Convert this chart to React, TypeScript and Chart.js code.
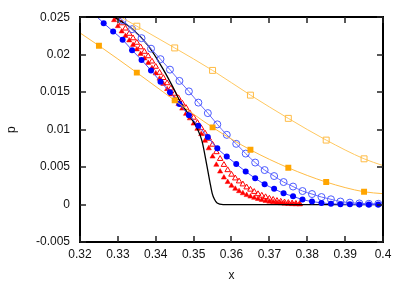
import React, { useEffect, useRef } from "react";
import { Chart, registerables } from "chart.js";

Chart.register(...registerables);

// ---- data ----
const xTickLabels = ["0.32", "0.33", "0.34", "0.35", "0.36", "0.37", "0.38", "0.39", "0.4"];
const yTickLabels = ["-0.005", "0", "0.005", "0.01", "0.015", "0.02", "0.025"];

const blackX = [0.3285, 0.3292, 0.3332, 0.338, 0.3419, 0.3445, 0.3464, 0.349, 0.3509, 0.3522, 0.3535, 0.3543, 0.3549, 0.3555, 0.3562, 0.3578, 0.4];
const blackY = [0.0254, 0.025, 0.0237, 0.0212, 0.0181, 0.0157, 0.0138, 0.0118, 0.0102, 0.0085, 0.0052, 0.003, 0.0015, 0.0007, 0.0002, 0.0, 0.0];

const redX = [
  0.328, 0.329, 0.33, 0.331, 0.332, 0.333, 0.334, 0.335, 0.336, 0.337,
  0.338, 0.339, 0.34, 0.341, 0.342, 0.343, 0.344, 0.345, 0.346, 0.347,
  0.348, 0.349, 0.35, 0.351, 0.352, 0.353, 0.354, 0.355, 0.356, 0.357,
  0.358, 0.359, 0.36, 0.361, 0.362, 0.363, 0.364, 0.365, 0.366, 0.367,
  0.368, 0.369, 0.37, 0.371, 0.372, 0.373, 0.374, 0.375, 0.376, 0.377, 0.378,
];
const redFilledY = [
  0.0253, 0.0246, 0.0238, 0.0231, 0.0225, 0.0219, 0.0213, 0.0207, 0.0201, 0.0195,
  0.0189, 0.0182, 0.0175, 0.0168, 0.0161, 0.0154, 0.0147, 0.0141, 0.0134, 0.0128,
  0.0121, 0.0115, 0.0108, 0.0101, 0.0094, 0.0085, 0.0075, 0.0064, 0.0053, 0.0044,
  0.0036, 0.003, 0.0025, 0.0021, 0.00178, 0.0015, 0.00126, 0.00106, 0.00089, 0.00074,
  0.0006, 0.00048, 0.00038, 0.0003, 0.00023, 0.00017, 0.00012, 0.00008, 0.00005, 0.00003, 0.00002,
];
const redOpenY = [
  0.0264, 0.0257, 0.025, 0.0242, 0.0235, 0.0228, 0.0222, 0.0216, 0.021, 0.0204,
  0.0198, 0.0191, 0.0184, 0.0176, 0.0169, 0.0162, 0.0155, 0.0148, 0.0142, 0.0135,
  0.0129, 0.0122, 0.0116, 0.0109, 0.0102, 0.0095, 0.0088, 0.008, 0.007, 0.0061,
  0.0053, 0.0046, 0.004, 0.0035, 0.0031, 0.0027, 0.0023, 0.002, 0.0017, 0.0014,
  0.0012, 0.001, 0.0008, 0.00065, 0.0005, 0.0004, 0.0003, 0.00023, 0.00017, 0.00012, 0.00008,
];

const blueX = [
  0.32375, 0.32625, 0.32875, 0.33125, 0.33375, 0.33625, 0.33875, 0.34125, 0.34375, 0.34625,
  0.34875, 0.35125, 0.35375, 0.35625, 0.35875, 0.36125, 0.36375, 0.36625, 0.36875, 0.37125,
  0.37375, 0.37625, 0.37875, 0.38125, 0.38375, 0.38625, 0.38875, 0.39125, 0.39375, 0.39625, 0.39875,
];
const blueFilledY = [
  0.0254, 0.0242, 0.0231, 0.022, 0.0206, 0.0193, 0.0179, 0.0164, 0.015, 0.0134,
  0.0119, 0.0105, 0.009, 0.0075, 0.0064, 0.0054, 0.0044, 0.0035, 0.0027, 0.0021,
  0.0015, 0.0011, 0.00066, 0.0004, 0.00022, 0.0001, 0.00005, 0.00003, 0.00002, 0.00001, 0.00001,
];
const blueOpenY = [
  null, null, 0.0258, 0.0246, 0.0234, 0.0222, 0.0208, 0.0194, 0.018, 0.0165,
  0.0151, 0.0136, 0.0122, 0.0107, 0.0093, 0.0081, 0.0068, 0.0056, 0.0046, 0.0038,
  0.003, 0.0024, 0.0018, 0.0014, 0.001, 0.0007, 0.0004, 0.00025, 0.00015, 0.0001, 0.0001,
];

const orangeFilledX = [0.32, 0.325, 0.335, 0.345, 0.355, 0.365, 0.375, 0.385, 0.395, 0.4];
const orangeFilledY = [0.0229, 0.0212, 0.0176, 0.0139, 0.0103, 0.0073, 0.0049, 0.003, 0.0017, 0.00145];

const orangeOpenX = [0.325, 0.335, 0.345, 0.355, 0.365, 0.375, 0.385, 0.395, 0.4];
const orangeOpenY = [0.0267, 0.0238, 0.0209, 0.0179, 0.0146, 0.0115, 0.0086, 0.0061, 0.0052];

// ---- helpers ----
const zip = (xs: number[], ys: (number | null)[]) =>
  xs.map((x, i) => ({ x, y: ys[i] })).filter((p) => p.y !== null && p.y !== undefined);

const FONT = "'Liberation Sans', Arial, Helvetica, sans-serif";
const fmt = (v: any) => String(parseFloat(Number(v).toFixed(4)));

// gnuplot-like frame (2px) with inward ticks on all four sides
const framePlugin = {
  id: "gnuFrame",
  afterDraw(chart: any) {
    const ctx = chart.ctx;
    const a = chart.chartArea;
    const xs = chart.scales.x;
    const ys = chart.scales.y;
    const L = Math.round(a.left);
    const R = Math.round(a.right);
    const T = Math.round(a.top);
    const B = Math.round(a.bottom);
    const len = 6;
    ctx.save();
    ctx.fillStyle = "#000";
    ctx.fillRect(L - 1, T - 1, R - L + 2, 2);
    ctx.fillRect(L - 1, B - 1, R - L + 2, 2);
    ctx.fillRect(L - 1, T - 1, 2, B - T + 2);
    ctx.fillRect(R - 1, T - 1, 2, B - T + 2);
    ctx.fillStyle = "#222";
    xs.ticks.forEach((t: any) => {
      const px = Math.round(xs.getPixelForValue(t.value));
      ctx.fillRect(px - 0.75, B - len, 1.5, len);
      ctx.fillRect(px - 0.75, T, 1.5, len);
    });
    ys.ticks.forEach((t: any) => {
      const py = Math.round(ys.getPixelForValue(t.value));
      ctx.fillRect(L, py - 0.75, len, 1.5);
      ctx.fillRect(R - len, py - 0.75, len, 1.5);
    });
    ctx.restore();
  },
};

export default function App() {
  const ref = useRef<HTMLCanvasElement | null>(null);

  useEffect(() => {
    document.body.style.margin = "0";
    if (!ref.current) return;
    const lastIdx = (ctx: any) => ctx.dataset.data.length - 1;
    const chart = new Chart(ref.current, {
      type: "line",
      data: {
        datasets: [
          {
            label: "orange filled",
            data: zip(orangeFilledX, orangeFilledY),
            borderColor: "#ffbb44",
            borderWidth: 1,
            backgroundColor: "#ffa500",
            pointBackgroundColor: "#ffa500",
            pointBorderColor: "#ffa500",
            pointBorderWidth: 0,
            pointStyle: "rect",
            pointRadius: (c: any) => (c.dataIndex === 0 || c.dataIndex === lastIdx(c) ? 0 : 4.2),
            cubicInterpolationMode: "monotone",
          },
          {
            label: "orange open",
            data: zip(orangeOpenX, orangeOpenY),
            borderColor: "#ffc860",
            borderWidth: 1,
            pointBackgroundColor: "rgba(0,0,0,0)",
            pointBorderColor: "#ffbb44",
            pointBorderWidth: 1,
            pointStyle: "rect",
            pointRadius: (c: any) => (c.dataIndex === lastIdx(c) ? 0 : 4.2),
            cubicInterpolationMode: "monotone",
          },
          {
            label: "blue filled",
            data: zip(blueX, blueFilledY),
            borderColor: "#4a4aff",
            borderWidth: 1,
            pointBackgroundColor: "#0000ff",
            pointBorderColor: "#0000ff",
            pointBorderWidth: 0,
            pointStyle: "circle",
            pointRadius: 3,
            cubicInterpolationMode: "monotone",
          },
          {
            label: "blue open",
            data: zip(blueX, blueOpenY),
            borderColor: "#6a6aff",
            borderWidth: 1,
            pointBackgroundColor: "rgba(0,0,0,0)",
            pointBorderColor: "#4b5bff",
            pointBorderWidth: 1,
            pointStyle: "circle",
            pointRadius: 3.5,
            cubicInterpolationMode: "monotone",
          },
          {
            label: "black",
            data: zip(blackX, blackY),
            borderColor: "#000",
            borderWidth: 1.3,
            pointRadius: 0,
            cubicInterpolationMode: "monotone",
          },
          {
            label: "red open",
            data: zip(redX, redOpenY),
            showLine: false,
            pointBackgroundColor: "rgba(0,0,0,0)",
            pointBorderColor: "#ff0000",
            pointBorderWidth: 1,
            pointStyle: "triangle",
            pointRadius: 3.2,
          },
          {
            label: "red filled",
            data: zip(redX, redFilledY),
            showLine: false,
            pointBackgroundColor: "#ff0000",
            pointBorderColor: "#ff0000",
            pointBorderWidth: 0.5,
            pointStyle: "triangle",
            pointRadius: 3,
          },
        ],
      },
      options: {
        animation: false,
        responsive: false,
        events: [],
        layout: { padding: { left: 0, right: 24, top: 14, bottom: 0 } },
        plugins: { legend: { display: false }, tooltip: { enabled: false } },
        scales: {
          x: {
            type: "linear",
            min: 0.32,
            max: 0.4,
            afterFit: (s: any) => {
              s.height = 43;
            },
            ticks: {
              stepSize: 0.01,
              autoSkip: false,
              maxRotation: 0,
              padding: 5,
              color: "#111",
              font: { family: FONT, size: 12 },
              callback: fmt,
            },
            grid: { display: false, drawTicks: false, tickLength: 0 },
            border: { display: false },
            title: {
              display: true,
              text: "x",
              color: "#111",
              font: { family: FONT, size: 12 },
              padding: { top: 0, bottom: 2 },
            },
          },
          y: {
            type: "linear",
            min: -0.005,
            max: 0.025,
            afterFit: (s: any) => {
              s.width = 80;
            },
            ticks: {
              stepSize: 0.005,
              autoSkip: false,
              padding: 10,
              color: "#111",
              font: { family: FONT, size: 12 },
              callback: fmt,
            },
            grid: { display: false, drawTicks: false, tickLength: 0 },
            border: { display: false },
            title: {
              display: true,
              text: "p",
              color: "#111",
              font: { family: FONT, size: 12 },
              padding: { top: 4, bottom: 0 },
            },
          },
        },
      },
      plugins: [framePlugin],
    } as any);
    return () => chart.destroy();
  }, []);

  return (
    <div style={{ position: "absolute", left: 0, top: 0, width: 407, height: 285, background: "#fff" }}>
      <canvas ref={ref} width={407} height={285} style={{ width: 407, height: 285 }} />
    </div>
  );
}
